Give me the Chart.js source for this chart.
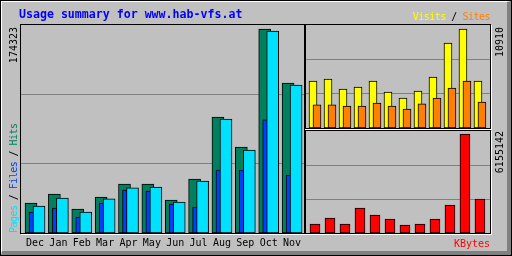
<!DOCTYPE html>
<html>
<head>
<meta charset="utf-8">
<title>Usage summary for www.hab-vfs.at</title>
<script src="https://cdn.jsdelivr.net/npm/chart.js@4.4.1/dist/chart.umd.min.js"></script>
<style>
  html, body { margin: 0; padding: 0; background: #fff; }
  #frame { position: absolute; left: 0; top: 0; width: 512px; height: 256px; box-sizing: border-box; border: 1px solid #000; }
  #bevel { position: absolute; left: 0; top: 0; right: 0; bottom: 0; background: #c0c0c0;
           border-top: 1px solid #fff; border-left: 1px solid #fff;
           border-right: 4px solid #808080; border-bottom: 4px solid #808080; }
  .panel { position: absolute; box-sizing: border-box; border: 1px solid #000; box-shadow: 1px 1px 0 #fff; }
  canvas { position: absolute; left: 0; top: 0; }
  .txt { position: absolute; font-family: "DejaVu Sans Mono", monospace; font-size: 10px; line-height: 10px; white-space: nowrap; color: #000; }
  .up { transform-origin: 0 0; transform: rotate(-90deg); }
</style>
</head>
<body>
<div id="frame"><div id="bevel"></div></div>
<div class="panel" style="left:20px;top:24px;width:285px;height:210px"></div>
<div class="panel" style="left:305px;top:24px;width:186px;height:105px"></div>
<div class="panel" style="left:305px;top:130px;width:186px;height:104px"></div>
<canvas id="mainChart" width="512" height="256"></canvas>
<canvas id="visitChart" width="512" height="256"></canvas>
<canvas id="kbyteChart" width="512" height="256"></canvas>

<div class="txt" style="left:19px;top:9px;font-weight:bold;font-size:11.6px;line-height:11.6px;color:#0000ff">Usage summary for www.hab-vfs.at</div>
<div class="txt" style="left:290px;top:11.5px;width:200px;text-align:right;letter-spacing:-0.5px"><span style="color:#ffff00">Visits</span> / <span style="color:#ff8000">Sites</span></div>
<div class="txt" style="left:290px;top:238.5px;width:200px;text-align:right;color:#ff0000">KBytes</div>
<div class="txt up" id="hitsMax" style="left:9px;top:107px;width:80px;text-align:right"></div>
<div class="txt up" style="left:9px;top:233px;width:200px;letter-spacing:-0.55px"><span style="color:#00e0ff">Pages</span> / <span style="color:#0040ff">Files</span> / <span style="color:#00805c">Hits</span></div>
<div class="txt up" id="visitsMax" style="left:495px;top:107px;width:80px;text-align:right"></div>
<div class="txt up" id="kbytesMax" style="left:495px;top:211px;width:80px;text-align:right"></div>

<script>
// monthly totals, Dec .. Nov
const months = ['Dec', 'Jan', 'Feb', 'Mar', 'Apr', 'May', 'Jun', 'Jul', 'Aug', 'Sep', 'Oct', 'Nov'];
const hits   = [25600, 33300, 20500, 30800, 41900, 41900, 28200, 46100, 99100, 73500, 174323, 128200];
const files  = [17900, 21400, 13700, 25600, 36700, 35900, 24800, 22200, 53800, 53800, 96600, 49600];
const pages  = [23100, 29900, 17900, 29100, 38500, 39300, 26500, 44400, 97400, 70900, 172600, 126500];
const visits = [5180, 5400, 4300, 4520, 5180, 3970, 3310, 4080, 5620, 9370, 10910, 5180];
const sites  = [2540, 2540, 2420, 2420, 2760, 2420, 2090, 2650, 3310, 4410, 5180, 2870];
const kbytes = [560000, 933000, 560000, 1554000, 1119000, 870000, 497000, 560000, 870000, 1741000, 6155142, 2114000];

const maxHits = Math.max(...hits);
const maxVisits = Math.max(...visits);
const maxKbytes = Math.max(...kbytes);
document.getElementById('hitsMax').textContent = maxHits;
document.getElementById('visitsMax').textContent = maxVisits;
document.getElementById('kbytesMax').textContent = maxKbytes;

Chart.defaults.font.family = '"DejaVu Sans Mono", monospace';

function points(values) {
    return values.map((v, i) => ({ x: i, y: v }));
}

function bars(label, values, color, axis, thickness, order) {
    return {
        label: label,
        data: points(values),
        xAxisID: axis,
        backgroundColor: color,
        borderColor: '#000',
        borderWidth: 1,
        borderSkipped: false,
        barThickness: thickness,
        grouped: false,
        order: order
    };
}

// a hidden x axis; shift moves the bars sideways (pixels)
function xScale(range, slot, shift) {
    return {
        type: 'linear', display: false, offset: false,
        min: range[0] - shift / slot,
        max: range[1] - shift / slot
    };
}

// leave a few pixels above the tallest bar, grid at thirds
function yScale(maxValue, area, gap) {
    const top = maxValue * area / (area - gap);
    return {
        min: 0, max: top,
        border: { display: false },
        ticks: { display: false },
        grid: { color: '#808080', drawTicks: false },
        afterBuildTicks: function (axis) {
            axis.ticks = [{ value: top / 3 }, { value: top * 2 / 3 }];
        }
    };
}

function baseOptions(padding, scales) {
    return {
        responsive: false,
        animation: false,
        devicePixelRatio: 1,
        events: [],
        layout: { padding: padding },
        plugins: { legend: { display: false }, tooltip: { enabled: false }, title: { display: false } },
        scales: scales
    };
}

// left panel: hits / files / pages
const mainRange = [-0.6, 11.51], mainSlot = 23.36;
const monthAxis = {
    type: 'linear', min: mainRange[0], max: mainRange[1], offset: false,
    grid: { display: false, drawTicks: false },
    border: { display: false },
    afterBuildTicks: function (axis) {
        axis.ticks = months.map((m, i) => ({ value: i }));
    },
    afterFit: function (axis) { axis.height = 23; },
    ticks: {
        padding: 4, color: '#000', autoSkip: false, maxRotation: 0, minRotation: 0,
        font: { size: 10 },
        callback: function (v) { return months[v]; }
    }
};

new Chart(document.getElementById('mainChart'), {
    type: 'bar',
    data: {
        datasets: [
            bars('Pages', pages, '#00e0ff', 'xPages', 12, 1),
            bars('Files', files, '#0040ff', 'xFiles', 5, 2),
            bars('Hits', hits, '#00805c', 'xHits', 12, 3)
        ]
    },
    options: baseOptions({ left: 21, top: 25, right: 208, bottom: 0 }, {
        x: monthAxis,
        xHits: xScale(mainRange, mainSlot, -4),
        xFiles: xScale(mainRange, mainSlot, -3.5),
        xPages: xScale(mainRange, mainSlot, 4),
        y: yScale(maxHits, 208, 4)
    })
});

// top right: visits / sites
const sideRange = [-0.6, 11.67], sideSlot = 15;
new Chart(document.getElementById('visitChart'), {
    type: 'bar',
    data: {
        datasets: [
            bars('Sites', sites, '#ff8000', 'xSites', 8, 1),
            bars('Visits', visits, '#ffff00', 'xVisits', 8, 2)
        ]
    },
    options: baseOptions({ left: 306, top: 25, right: 22, bottom: 128 }, {
        xVisits: xScale(sideRange, sideSlot, -2),
        xSites: xScale(sideRange, sideSlot, 2),
        y: yScale(maxVisits, 103, 4)
    })
});

// bottom right: kbytes
new Chart(document.getElementById('kbyteChart'), {
    type: 'bar',
    data: {
        datasets: [
            bars('KBytes', kbytes, '#ff0000', 'xKbytes', 10, 1)
        ]
    },
    options: baseOptions({ left: 306, top: 131, right: 22, bottom: 23 }, {
        xKbytes: xScale(sideRange, sideSlot, 0),
        y: yScale(maxKbytes, 102, 3)
    })
});
</script>
</body>
</html>
